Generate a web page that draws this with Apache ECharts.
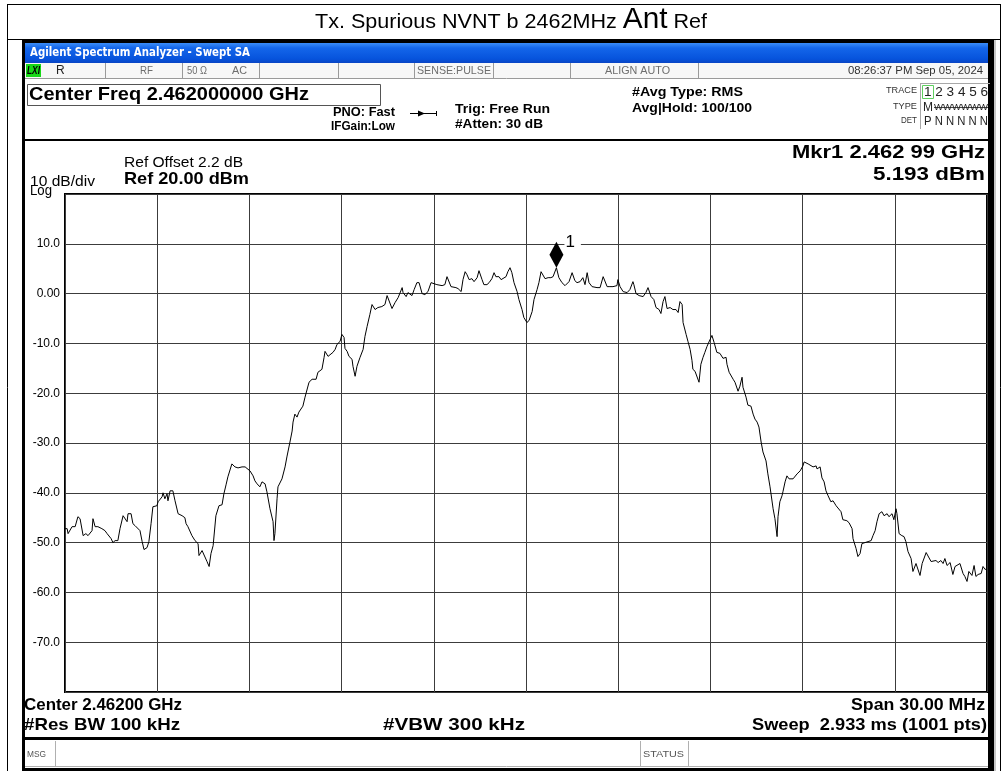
<!DOCTYPE html>
<html>
<head>
<meta charset="utf-8">
<title>Tx. Spurious NVNT b 2462MHz Ant Ref</title>
<script src="https://cdn.jsdelivr.net/npm/echarts@6/dist/echarts.min.js"></script>
<style>
  html, body { margin: 0; padding: 0; background: #fff; }
  #chart { width: 1003px; height: 771px; }
</style>
</head>
<body>
<div id="chart"></div>
<script>
// trace 1: offset from 2.462 GHz centre (MHz) and level (dBm)
const freqOffsetMHz = [
  -15.00, -14.93, -14.90, -14.77, -14.67, -14.58, -14.51, -14.41, -14.32, -14.25,
  -14.12, -14.09, -14.02, -13.93, -13.80, -13.70, -13.63, -13.57, -13.50, -13.44,
  -13.37, -13.28, -13.21, -13.15, -13.11, -12.98, -12.95, -12.85, -12.79, -12.72,
  -12.66, -12.56, -12.49, -12.43, -12.33, -12.27, -12.20, -12.14, -12.01, -11.97,
  -11.84, -11.81, -11.75, -11.68, -11.65, -11.58, -11.49, -11.42, -11.32, -11.19,
  -11.10, -11.06, -11.00, -10.87, -10.77, -10.67, -10.64, -10.54, -10.48, -10.38,
  -10.31, -10.25, -10.18, -10.09, -9.99, -9.89, -9.83, -9.76, -9.70, -9.57,
  -9.53, -9.47, -9.37, -9.24, -9.14, -9.08, -8.98, -8.88, -8.82, -8.75,
  -8.66, -8.59, -8.56, -8.49, -8.43, -8.33, -8.23, -8.20, -8.17, -8.10,
  -8.07, -7.94, -7.84, -7.78, -7.68, -7.61, -7.58, -7.52, -7.45, -7.39,
  -7.26, -7.19, -7.13, -7.06, -6.96, -6.90, -6.83, -6.77, -6.64, -6.57,
  -6.54, -6.48, -6.44, -6.38, -6.28, -6.21, -6.15, -6.05, -5.99, -5.95,
  -5.92, -5.89, -5.82, -5.76, -5.66, -5.63, -5.56, -5.50, -5.40, -5.30,
  -5.24, -5.17, -5.08, -5.01, -4.91, -4.82, -4.69, -4.59, -4.52, -4.46,
  -4.36, -4.26, -4.16, -4.03, -4.00, -3.90, -3.84, -3.71, -3.64, -3.55,
  -3.48, -3.38, -3.29, -3.19, -3.09, -3.03, -2.90, -2.73, -2.64, -2.57,
  -2.51, -2.44, -2.38, -2.28, -2.21, -2.11, -2.05, -1.98, -1.92, -1.85,
  -1.76, -1.69, -1.59, -1.53, -1.43, -1.37, -1.27, -1.20, -1.11, -1.04,
  -0.98, -0.88, -0.81, -0.75, -0.65, -0.59, -0.52, -0.46, -0.39, -0.29,
  -0.23, -0.13, -0.07, 0.03, 0.10, 0.20, 0.26, 0.36, 0.42, 0.49,
  0.55, 0.62, 0.72, 0.81, 0.88, 0.93, 0.99, 1.07, 1.17, 1.27,
  1.33, 1.40, 1.50, 1.53, 1.59, 1.66, 1.76, 1.85, 1.92, 1.99,
  2.05, 2.15, 2.21, 2.31, 2.41, 2.51, 2.57, 2.64, 2.73, 2.83,
  2.96, 2.99, 3.06, 3.16, 3.22, 3.29, 3.38, 3.48, 3.51, 3.58,
  3.68, 3.81, 3.90, 3.97, 4.07, 4.16, 4.23, 4.33, 4.39, 4.46,
  4.52, 4.59, 4.69, 4.78, 4.88, 4.95, 5.01, 5.08, 5.11, 5.21,
  5.27, 5.34, 5.40, 5.43, 5.50, 5.56, 5.63, 5.69, 5.76, 5.82,
  5.89, 5.99, 6.05, 6.12, 6.21, 6.31, 6.41, 6.51, 6.54, 6.61,
  6.74, 6.80, 6.90, 6.96, 7.03, 7.06, 7.16, 7.22, 7.32, 7.39,
  7.45, 7.52, 7.58, 7.65, 7.71, 7.81, 7.87, 7.94, 8.04, 8.10,
  8.17, 8.20, 8.26, 8.33, 8.36, 8.43, 8.49, 8.56, 8.69, 8.75,
  8.82, 8.92, 9.01, 9.05, 9.11, 9.18, 9.24, 9.34, 9.44, 9.47,
  9.57, 9.63, 9.70, 9.76, 9.83, 9.92, 9.99, 10.09, 10.15, 10.25,
  10.31, 10.44, 10.51, 10.61, 10.64, 10.74, 10.80, 10.87, 10.93, 11.03,
  11.13, 11.23, 11.29, 11.36, 11.42, 11.49, 11.58, 11.65, 11.75, 11.81,
  11.91, 11.97, 12.04, 12.07, 12.14, 12.23, 12.30, 12.36, 12.43, 12.53,
  12.59, 12.69, 12.75, 12.82, 12.89, 12.95, 13.02, 13.08, 13.18, 13.24,
  13.34, 13.41, 13.50, 13.57, 13.63, 13.70, 13.80, 13.89, 13.96, 14.02,
  14.12, 14.22, 14.28, 14.35, 14.41, 14.51, 14.58, 14.64, 14.71, 14.81,
  14.87, 14.94, 15.00
];
const levelDbm = [
  -47.2, -47.2, -48.2, -46.8, -46.8, -44.8, -45.2, -48.6, -48.2, -48.6,
  -47.6, -45.2, -46.8, -46.8, -47.2, -47.6, -48.2, -47.8, -49.2, -50.0,
  -49.6, -49.6, -47.2, -46.8, -44.6, -45.8, -44.2, -44.2, -46.2, -46.6,
  -46.8, -47.6, -49.8, -51.4, -51.0, -49.8, -46.2, -42.8, -42.6, -41.8,
  -40.8, -40.0, -41.2, -40.2, -41.6, -39.6, -39.6, -41.6, -44.2, -44.6,
  -45.0, -46.2, -46.8, -48.6, -49.6, -50.2, -52.6, -51.6, -51.8, -53.8,
  -54.8, -52.2, -50.6, -44.6, -42.6, -42.4, -40.2, -38.4, -36.8, -34.2,
  -33.8, -34.8, -35.0, -34.8, -34.8, -34.6, -35.6, -36.6, -37.6, -38.2,
  -38.8, -37.8, -37.6, -38.2, -39.8, -43.2, -45.8, -49.6, -48.2, -41.2,
  -38.8, -37.2, -34.8, -32.8, -29.8, -27.6, -25.8, -24.2, -24.8, -23.8,
  -22.6, -20.8, -20.8, -17.8, -17.2, -17.6, -17.2, -15.8, -15.2, -12.8,
  -11.6, -11.2, -12.6, -12.6, -11.8, -11.2, -10.2, -9.6, -8.2, -8.0,
  -8.8, -11.0, -11.6, -12.6, -13.2, -14.6, -16.6, -14.6, -12.8, -11.2,
  -8.6, -6.6, -4.2, -2.2, -3.2, -2.8, -2.6, -2.2, -0.4, -0.4,
  -3.0, -1.8, -0.8, 1.2, 0.2, -0.6, 0.2, -0.4, 0.8, 2.2,
  2.2, 0.0, -0.2, 0.4, 2.2, 2.0, 1.8, 1.6, 1.8, 3.4,
  3.6, 1.4, 1.4, 1.2, 1.0, 0.4, 2.8, 4.4, 3.8, 2.8,
  3.0, 2.4, 3.2, 4.6, 2.8, 1.8, 1.8, 2.2, 3.0, 4.2,
  3.4, 3.4, 2.8, 3.2, 3.4, 4.4, 5.2, 4.2, 2.2, 0.4,
  -1.2, -3.2, -4.8, -5.8, -5.4, -3.6, -1.2, 0.8, 2.2, 4.4,
  4.6, 3.0, 3.2, 3.2, 3.4, 3.2, 5.19, 3.2, 2.2, 1.6,
  1.4, 2.4, 4.2, 4.4, 2.6, 2.2, 2.4, 3.2, 1.8, 4.2,
  2.2, 1.4, 1.0, 1.2, 1.2, 3.4, 3.4, 1.4, 1.4, 1.4,
  1.6, 2.8, 1.4, 0.4, 0.0, 0.2, 0.8, 2.4, 1.8, 0.0,
  -0.4, -0.6, 0.2, 1.2, -0.6, -1.2, -2.8, -3.2, -4.0, -1.6,
  -0.6, -3.0, -2.8, -3.2, -3.2, -3.8, -1.6, -2.2, -5.8, -8.2,
  -9.6, -11.2, -13.4, -15.2, -15.6, -15.6, -17.8, -14.2, -12.8, -11.8,
  -10.6, -9.2, -8.4, -9.8, -11.8, -12.0, -13.0, -12.8, -14.2, -15.8,
  -17.2, -17.8, -19.6, -18.6, -16.8, -18.8, -20.8, -22.4, -22.6, -24.2,
  -25.2, -25.8, -26.8, -29.8, -31.8, -33.6, -36.2, -38.8, -43.2, -45.2,
  -48.8, -44.8, -41.8, -40.6, -39.8, -37.8, -36.6, -37.2, -37.2, -37.0,
  -36.2, -35.6, -34.6, -33.8, -34.2, -34.2, -34.6, -34.8, -34.6, -35.2,
  -34.8, -37.0, -37.8, -39.6, -40.6, -41.8, -41.6, -42.6, -42.8, -43.8,
  -45.4, -45.6, -46.0, -47.2, -49.2, -51.2, -52.8, -52.2, -50.2, -50.0,
  -49.8, -49.6, -48.6, -47.6, -45.8, -44.2, -43.8, -44.6, -44.2, -44.8,
  -44.2, -45.4, -43.2, -44.2, -48.2, -48.6, -48.8, -49.8, -51.8, -53.2,
  -55.8, -54.2, -54.2, -56.6, -54.2, -54.2, -52.0, -52.0, -53.8, -54.0,
  -53.6, -54.0, -53.6, -54.2, -53.2, -54.6, -54.0, -56.4, -54.8, -54.4,
  -54.2, -56.2, -56.8, -57.8, -55.8, -56.6, -54.6, -56.8, -56.4, -56.2,
  -54.8, -55.4, -55.2
];
const yTickValues = [10, 0, -10, -20, -30, -40, -50, -60, -70];
const yTickLabels = ['10.0', '0.00', '-10.0', '-20.0', '-30.0', '-40.0', '-50.0', '-60.0', '-70.0'];
const refLevelDbm = 20;
const dbPerDiv = 10;
const halfSpanMHz = 15;
const markerFreqOffsetMHz = 0.99;
const markerLevelDbm = 5.193;

const SANS = '"Liberation Sans", Arial, sans-serif';
const NARROW = '"Liberation Sans Narrow", "Liberation Sans", Arial, sans-serif';
const measure = document.createElement('canvas').getContext('2d');

function fontOf(size, o) {
  return (o.italic ? 'italic ' : '') + (o.bold ? 'bold ' : '') + size + 'px ' + (o.family || SANS);
}
// text stretched so that it spans left..right (right may be null = natural width)
function txt(str, left, right, cy, size, o = {}) {
  const font = fontOf(size, o);
  measure.font = font;
  const w = measure.measureText(str).width;
  const sx = right == null ? 1 : (right - left) / w;
  return {
    type: 'text', x: left, y: cy, scaleX: sx, z: 20, silent: true,
    style: {
      text: str, x: 0, y: 0, font: font, fill: o.color || '#000',
      align: 'left', verticalAlign: 'middle', textAlign: 'left', textVerticalAlign: 'middle'
    }
  };
}
function box(x, y, w, h, fill, stroke, lw) {
  return {
    type: 'rect', z: 1, silent: true, shape: { x: x, y: y, width: w, height: h },
    style: { fill: fill || 'none', stroke: stroke || null, lineWidth: lw || 1 }
  };
}
function seg(x1, y1, x2, y2, color, lw) {
  return {
    type: 'line', z: 5, silent: true, shape: { x1: x1, y1: y1, x2: x2, y2: y2 },
    style: { stroke: color || '#000', lineWidth: lw || 1 }
  };
}

// title with a bigger "Ant"
function titleParts() {
  const parts = [['Tx. Spurious NVNT b 2462MHz ', 21], ['Ant', 29], [' Ref', 21]];
  const widths = parts.map(p => { measure.font = fontOf(p[1], { family: NARROW }); return measure.measureText(p[0]).width; });
  const total = widths.reduce((a, b) => a + b, 0);
  const s = 392 / total;
  let cx = 511 - 196;
  const baseline = 30;
  return parts.map((p, i) => {
    const el = txt(p[0], cx, null, baseline - 0.35 * p[1], p[1], { family: NARROW });
    el.scaleX = s;
    cx += widths[i] * s;
    return el;
  });
}

const statusGrey = '#6e6e6e';
const graphics = [
  // page frame + title box
  seg(7.5, 4, 7.5, 771, '#000', 1),
  seg(1000.5, 4, 1000.5, 771, '#000', 1),
  seg(7, 4.5, 1001, 4.5, '#000', 1),
  seg(7, 39.5, 1001, 39.5, '#000', 1),
  ...titleParts(),

  // instrument black frame
  box(22, 40, 974, 3, '#000'),
  box(22, 40, 3, 731, '#000'),
  box(988, 40, 6, 731, '#000'),
  box(994, 40, 2, 731, '#c8c8c8'),
  box(22, 768, 972, 3, '#000'),
  // window title bar
  {
    type: 'rect', z: 1, silent: true, shape: { x: 25, y: 43, width: 963, height: 20 },
    style: {
      fill: new echarts.graphic.LinearGradient(0, 0, 0, 1, [
        { offset: 0, color: '#3b8df7' }, { offset: 0.25, color: '#1466ea' },
        { offset: 0.8, color: '#0653dc' }, { offset: 1, color: '#0a45c4' }
      ])
    }
  },
  txt('Agilent Spectrum Analyzer - Swept SA', 30, 250, 53, 12, { bold: true, color: '#fff', family: '"DejaVu Sans", sans-serif' }),
  // status row
  box(25, 63, 963, 15, '#f7f7f7'),
  seg(25, 78.5, 988, 78.5, '#9a9a9a', 1),
  box(26, 64, 15, 13, '#18d818'),
  txt('LXI', 27, 40, 71, 11, { bold: true, italic: true }),
  txt('R', 56, null, 71, 12, { color: '#222' }),
  seg(105.5, 63, 105.5, 78, '#9a9a9a'),
  txt('RF', 140, 153, 71, 11, { color: statusGrey }),
  seg(182.5, 63, 182.5, 78, '#9a9a9a'),
  txt('50 \u03a9', 187, 207, 71, 11, { color: statusGrey }),
  txt('AC', 232, 247, 71, 11, { color: statusGrey }),
  seg(259.5, 63, 259.5, 78, '#9a9a9a'),
  seg(338.5, 63, 338.5, 78, '#9a9a9a'),
  seg(414.5, 63, 414.5, 78, '#9a9a9a'),
  txt('SENSE:PULSE', 417, 491, 71, 11, { color: statusGrey }),
  seg(493.5, 63, 493.5, 78, '#9a9a9a'),
  seg(570.5, 63, 570.5, 78, '#9a9a9a'),
  txt('ALIGN AUTO', 605, 670, 71, 11, { color: statusGrey }),
  seg(698.5, 63, 698.5, 78, '#9a9a9a'),
  txt('08:26:37 PM Sep 05, 2024', 848, 983, 71, 11, { color: '#333' }),

  // measurement settings
  box(27.5, 84.5, 353, 21, null, '#555', 1),
  txt('Center Freq 2.462000000 GHz', 29, 309, 95, 18, { bold: true }),
  txt('PNO: Fast', 333, 395, 113, 12, { bold: true }),
  txt('IFGain:Low', 331, 395, 127, 12, { bold: true }),
  seg(410, 113.5, 436, 113.5, '#000', 1),
  { type: 'polygon', z: 5, silent: true, shape: { points: [[418, 110.5], [425, 113.5], [418, 116.5]] }, style: { fill: '#000' } },
  seg(436.5, 111, 436.5, 116, '#000', 1),
  txt('Trig: Free Run', 455, 550, 109, 13, { bold: true }),
  txt('#Atten: 30 dB', 455, 543, 124, 13, { bold: true }),
  txt('#Avg Type: RMS', 632, 743, 92, 13, { bold: true }),
  txt('Avg|Hold: 100/100', 632, 752, 108, 13, { bold: true }),
  txt('TRACE', 886, 917, 91, 9, { color: '#333' }),
  txt('TYPE', 893, 917, 107, 9, { color: '#333' }),
  txt('DET', 901, 917, 121, 9, { color: '#333' }),
  seg(920.5, 83, 920.5, 129, '#a8a8a8'),
  seg(920, 83.5, 990, 83.5, '#a8a8a8'),
  box(922.5, 85.5, 11, 13, null, '#5fcf5f', 1),
  txt('1 2 3 4 5 6', 924, 988, 92, 13, { color: '#222' }),
  txt('M', 923, 933, 108, 12, { color: '#222' }),
  txt('WWWWWW', 934, 988, 108, 9, { color: '#222' }),
  seg(934, 107.5, 988, 107.5, '#444', 1),
  txt('P N N N N N', 924, 988, 122, 12, { color: '#222' }),

  // separators
  box(25, 139, 963, 2, '#000'),
  box(25, 737, 963, 3, '#000'),

  // plot annotations
  txt('Ref Offset 2.2 dB', 124, 243, 163, 15),
  txt('Ref 20.00 dBm', 124, 249, 179, 17, { bold: true }),
  txt('10 dB/div', 30, 95, 182, 14),
  txt('Log', 30, 52, 191, 14),
  txt('Mkr1 2.462 99 GHz', 792, 985, 153, 18, { bold: true }),
  txt('5.193 dBm', 873, 985, 175, 18, { bold: true }),
  txt('Center 2.46200 GHz', 24, 182, 705, 17, { bold: true, family: NARROW }),
  txt('#Res BW 100 kHz', 24, 180, 725, 17, { bold: true, family: NARROW }),
  txt('#VBW 300 kHz', 383, 525, 725, 17, { bold: true, family: NARROW }),
  txt('Span 30.00 MHz', 851, 985, 705, 17, { bold: true, family: NARROW }),
  txt('Sweep  2.933 ms (1001 pts)', 752, 987, 725, 17, { bold: true, family: NARROW }),

  // message row
  seg(25, 766.5, 988, 766.5, '#b0b0b0'),
  seg(55.5, 741, 55.5, 767, '#b0b0b0'),
  seg(640.5, 741, 640.5, 767, '#b0b0b0'),
  seg(688.5, 741, 688.5, 767, '#b0b0b0'),
  txt('MSG', 27, 46, 755, 9, { color: '#555' }),
  txt('STATUS', 643, 684, 755, 9, { color: '#555' })
];

const chart = echarts.init(document.getElementById('chart'), null, { renderer: 'canvas' });
chart.setOption({
  backgroundColor: '#fff',
  animation: false,
  grid: {
    left: 65, top: 194, width: 922, height: 498,
    show: true, borderColor: '#000', borderWidth: 2, backgroundColor: 'transparent'
  },
  xAxis: {
    type: 'value', min: -halfSpanMHz, max: halfSpanMHz, interval: 3,
    axisLine: { show: false }, axisTick: { show: false }, axisLabel: { show: false },
    splitLine: { show: true, lineStyle: { color: '#3c3c3c', width: 1 } }
  },
  yAxis: {
    type: 'value', min: refLevelDbm - 10 * dbPerDiv, max: refLevelDbm, interval: dbPerDiv,
    axisLine: { show: false }, axisTick: { show: false },
    splitLine: { show: true, lineStyle: { color: '#3c3c3c', width: 1 } },
    axisLabel: {
      show: true, margin: 5, fontSize: 12, color: '#000', fontFamily: SANS,
      showMinLabel: false, showMaxLabel: false,
      formatter: v => { const i = yTickValues.indexOf(v); return i < 0 ? '' : yTickLabels[i]; }
    }
  },
  series: [
    {
      type: 'line', name: 'Trace 1', showSymbol: false, symbol: 'none', clip: true,
      lineStyle: { color: '#000', width: 1 },
      data: freqOffsetMHz.map((f, i) => [f, levelDbm[i]]),
      z: 3
    },
    {
      type: 'scatter', name: 'Mkr1', symbol: 'diamond', symbolSize: [14, 26], symbolOffset: [0, -13],
      itemStyle: { color: '#000', opacity: 1 },
      label: {
        show: true, formatter: '1', position: 'right', distance: 1, offset: [0, -12],
        fontSize: 17, color: '#000', fontFamily: SANS, backgroundColor: '#fff', padding: [0, 6, 0, 1]
      },
      data: [[markerFreqOffsetMHz, markerLevelDbm]],
      z: 4
    }
  ],
  graphic: { elements: graphics }
});
</script>
</body>
</html>
